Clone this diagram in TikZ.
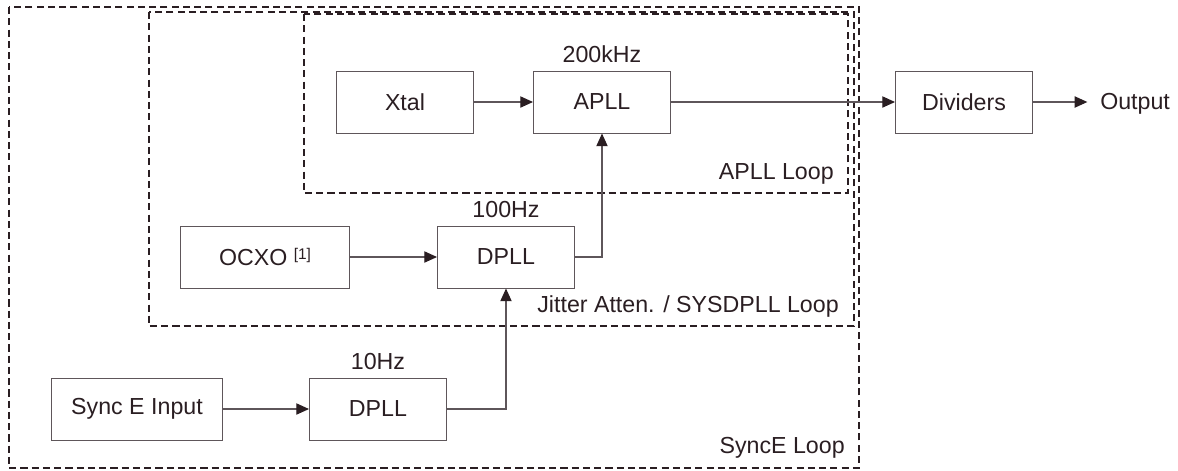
\documentclass[tikz,border=0pt]{standalone}
\usepackage{fontspec}
\setmainfont{Liberation Sans}
\usetikzlibrary{arrows.meta,positioning,calc}

\definecolor{inkc}{HTML}{2A1E22}
\definecolor{linec}{HTML}{5E565A}

\begin{document}
\begin{tikzpicture}[x=0.025cm, y=-0.025cm,
    block/.style={rectangle, draw=linec, line width=0.7pt, text=inkc, minimum width=3.425cm, minimum height=1.55cm, inner sep=0pt, font=\fontsize{16.5}{20}\selectfont},
    loopbox/.style={draw=inkc, line width=1.3pt, dash pattern=on 5pt off 3pt},
    looplabel/.style={text=inkc, inner sep=0pt, font=\fontsize{16.5}{20}\selectfont},
    link/.style={draw=linec, line width=0.8pt, -{Triangle[length=9pt,width=8pt,color=inkc]}}]
    \useasboundingbox (0,0) rectangle (1178,470);

    % loops
    \draw[loopbox] (9,7) rectangle (859,468);
    \draw[loopbox] (149,12) rectangle (854,326);
    \draw[loopbox] (304,14) rectangle (848,193);

    % blocks
    \node[block] (xtal) at (405,102) {Xtal};
    \node[block] (apll) at (602,102) {APLL};
    \node[block] (div) at (964,102) {Dividers};
    \node[block, minimum width=4.225cm] (ocxo) at (265,257) {OCXO \raisebox{0.55ex}{\fontsize{11}{12}\selectfont[1]}};
    \node[block] (dpllA) at (506,257) {DPLL};
    \node[block, minimum width=4.25cm] (sync) at (137,409) {Sync E Input};
    \node[block] (dpllB) at (378,409) {DPLL};
    \node[looplabel, anchor=west] (out) at (1100,104) {Output};

    % frequencies
    \node[looplabel, above=5pt of apll] (fA) {200kHz};
    \node[looplabel, above=5pt of dpllA] (fB) {100Hz};
    \node[looplabel, above=5pt of dpllB] (fC) {10Hz};

    % loop names
    \node[looplabel, anchor=east] (lA) at (834,174) {APLL Loop};
    \node[looplabel, anchor=east] (lB) at (839,306) {Jitter Atten. / SYSDPLL Loop};
    \node[looplabel, anchor=east] (lC) at (845,448) {SyncE Loop};

    \draw[link] (xtal) -- (apll);
    \draw[link] (apll) -- (div);
    \draw[link] (div.east) -- ([xshift=-9pt]out.west |- div.east);
    \draw[link] (ocxo) -- (dpllA);
    \draw[link] (sync) -- (dpllB);
    \draw[link] (dpllA.east) -| (apll.south);
    \draw[link] (dpllB.east) -| (dpllA.south);
\end{tikzpicture}
\end{document}
